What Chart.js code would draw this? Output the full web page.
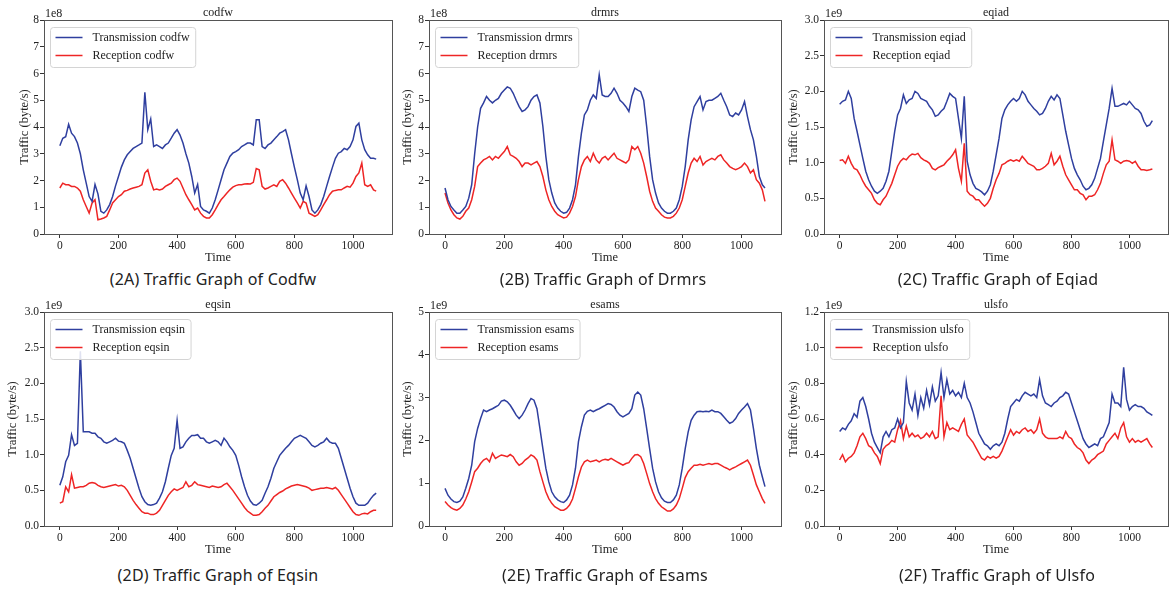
<!DOCTYPE html>
<html lang="en">
<head>
<meta charset="UTF-8">
<title>Traffic Graphs</title>
<script src="https://cdn.jsdelivr.net/npm/chart.js"></script>
<style>
  body { margin: 0; background: #fff; }
  #page { position: relative; width: 1174px; height: 592px; overflow: hidden; background: #fff; }
  #page canvas { position: absolute; }
  .caption {
    position: absolute;
    transform: translate(-50%, -50%);
    font-family: "Noto Sans", sans-serif;
    font-size: 16px;
    letter-spacing: 0.2px;
    color: #222;
    white-space: nowrap;
  }
</style>
</head>
<body>
<div id="page"></div>
<script>
// time axis (sampled every 10 steps)
const time = [0,10,20,30,40,50,60,70,80,90,
  100,110,120,130,140,150,160,170,180,190,
  200,210,220,230,240,250,260,270,280,290,
  300,310,320,330,340,350,360,370,380,390,
  400,410,420,430,440,450,460,470,480,490,
  500,510,520,530,540,550,560,570,580,590,
  600,610,620,630,640,650,660,670,680,690,
  700,710,720,730,740,750,760,770,780,790,
  800,810,820,830,840,850,860,870,880,890,
  900,910,920,930,940,950,960,970,980,990,
  1000,1010,1020,1030,1040,1050,1060,1070,1079];

// codfw (x1e8)
const codfwTx = [3.3,3.58,3.64,4.1,3.77,3.64,3.4,3.0,2.4,1.9,
  1.4,1.22,1.85,1.5,0.85,0.78,0.9,1.1,1.4,1.8,
  2.15,2.5,2.77,2.96,3.08,3.2,3.27,3.33,3.4,5.3,
  3.9,4.3,3.27,3.33,3.27,3.2,3.33,3.4,3.58,3.77,
  3.9,3.7,3.4,3.0,2.65,2.15,1.53,1.85,1.03,0.9,
  0.85,0.78,0.97,1.28,1.65,2.03,2.4,2.65,2.9,3.02,
  3.08,3.15,3.27,3.33,3.4,3.4,3.33,4.27,4.27,3.27,
  3.2,3.33,3.4,3.52,3.64,3.77,3.83,3.9,3.52,3.0,
  2.5,2.03,1.53,1.28,1.8,1.4,0.9,0.78,0.9,1.1,
  1.4,1.78,2.15,2.5,2.83,3.02,3.08,3.2,3.15,3.27,
  3.52,4.02,4.14,3.52,3.15,2.96,2.83,2.83,2.8];
const codfwRx = [1.72,1.9,1.84,1.84,1.78,1.78,1.72,1.6,1.28,1.03,
  0.78,1.16,1.28,0.53,0.56,0.6,0.66,0.9,1.16,1.28,
  1.4,1.47,1.6,1.63,1.68,1.72,1.75,1.78,1.84,2.28,
  2.4,1.97,1.65,1.68,1.65,1.68,1.78,1.84,1.9,2.03,
  2.09,1.97,1.72,1.47,1.28,1.1,0.9,0.97,0.78,0.66,
  0.6,0.6,0.72,0.9,1.1,1.28,1.4,1.53,1.65,1.75,
  1.81,1.84,1.84,1.87,1.88,1.87,1.93,2.45,2.4,1.78,
  1.68,1.72,1.78,1.84,1.78,1.97,2.03,1.9,1.72,1.53,
  1.34,1.16,0.97,1.22,1.16,0.78,0.72,0.66,0.72,0.9,
  1.1,1.28,1.47,1.6,1.63,1.65,1.65,1.72,1.78,1.75,
  1.9,2.15,2.28,2.65,1.84,1.78,1.84,1.65,1.6];

// drmrs (x1e8)
const drmrsTx = [1.72,1.28,1.03,0.9,0.78,0.78,0.9,1.03,1.34,1.84,
  3.0,4.0,4.7,4.9,5.14,5.0,4.9,5.0,5.07,5.26,
  5.38,5.5,5.45,5.26,5.0,4.76,4.58,4.64,4.76,5.0,
  5.14,5.2,4.9,4.02,2.9,2.03,1.53,1.16,0.97,0.85,
  0.78,0.81,0.97,1.28,1.84,2.9,3.77,4.45,4.64,5.0,
  5.2,5.07,5.95,5.2,5.14,5.14,5.26,5.45,5.26,5.0,
  4.9,4.76,4.58,5.14,5.45,5.38,5.32,5.0,4.02,2.9,
  2.03,1.53,1.16,0.97,0.85,0.78,0.78,0.85,0.97,1.28,
  1.78,2.52,3.52,4.27,4.76,4.95,5.14,4.64,4.95,5.0,
  5.0,5.07,5.14,5.26,5.0,4.76,4.45,4.39,4.52,4.45,
  4.64,4.95,4.39,3.9,3.52,2.9,2.15,1.84,1.72];
const drmrsRx = [1.53,1.16,0.9,0.72,0.6,0.56,0.66,0.85,0.97,1.28,
  1.78,2.52,2.65,2.77,2.83,2.9,2.77,2.9,2.83,2.96,
  3.08,3.27,2.96,2.9,2.83,2.71,2.52,2.65,2.65,2.58,
  2.65,2.71,2.52,2.15,1.65,1.28,1.03,0.85,0.72,0.66,
  0.6,0.63,0.78,1.03,1.4,2.03,2.52,2.77,2.9,2.71,
  3.02,2.77,2.65,2.83,2.9,2.77,2.9,3.02,2.83,2.77,
  2.71,2.65,2.77,3.27,3.15,3.27,3.02,2.65,2.15,1.6,
  1.22,0.97,0.85,0.72,0.63,0.6,0.6,0.66,0.78,0.97,
  1.28,1.78,2.28,2.65,2.83,2.71,2.9,2.58,2.71,2.77,
  2.83,2.77,2.9,2.96,2.77,2.65,2.52,2.45,2.4,2.45,
  2.52,2.65,2.52,2.28,2.4,2.03,1.9,1.65,1.22];

// eqiad (x1e9)
const eqiadTx = [1.82,1.86,1.88,2.0,1.9,1.62,1.44,1.25,1.06,0.88,
  0.76,0.67,0.6,0.57,0.6,0.64,0.74,0.88,1.16,1.44,
  1.67,1.76,1.95,1.83,1.88,1.9,2.0,1.97,1.9,1.88,
  1.86,1.79,1.74,1.65,1.67,1.72,1.76,1.86,1.97,1.93,
  1.9,1.62,1.34,1.93,1.02,0.83,0.71,0.64,0.62,0.59,
  0.55,0.6,0.69,0.88,1.11,1.34,1.62,1.74,1.81,1.86,
  1.9,1.86,1.9,2.0,1.95,1.86,1.81,1.76,1.72,1.67,
  1.69,1.76,1.86,1.93,1.88,1.95,1.9,1.67,1.44,1.25,
  1.06,0.92,0.83,0.76,0.67,0.62,0.64,0.69,0.78,0.92,
  1.06,1.3,1.53,1.76,2.04,1.79,1.79,1.81,1.83,1.81,
  1.86,1.81,1.76,1.74,1.69,1.58,1.51,1.53,1.59];
const eqiadRx = [1.03,1.04,0.99,1.09,0.99,0.92,0.9,0.83,0.74,0.67,
  0.62,0.57,0.48,0.43,0.41,0.48,0.53,0.62,0.71,0.83,
  0.95,1.02,1.06,1.04,1.09,1.12,1.11,1.13,1.07,1.04,
  1.02,0.99,0.92,0.9,0.93,0.95,0.97,1.02,1.06,1.11,
  1.18,0.92,0.74,1.27,0.6,0.55,0.53,0.48,0.48,0.43,
  0.39,0.43,0.5,0.64,0.76,0.85,0.97,0.99,1.02,1.04,
  1.02,1.04,1.02,1.09,1.04,0.99,0.97,0.95,0.9,0.9,
  0.92,0.95,0.99,1.13,0.97,1.02,1.09,0.95,0.83,0.76,
  0.69,0.62,0.62,0.57,0.55,0.48,0.53,0.53,0.55,0.62,
  0.71,0.85,0.97,1.02,1.32,1.04,1.02,0.99,1.02,1.03,
  1.02,0.99,1.02,0.95,0.9,0.9,0.89,0.9,0.91];

// eqsin (x1e9)
const eqsinTx = [0.57,0.69,0.9,0.99,1.28,1.13,1.16,2.45,1.32,1.32,
  1.32,1.3,1.3,1.25,1.23,1.18,1.16,1.18,1.2,1.23,
  1.19,1.18,1.16,1.06,0.95,0.81,0.67,0.53,0.41,0.34,
  0.3,0.29,0.3,0.32,0.39,0.48,0.62,0.81,0.99,1.09,
  1.48,1.09,1.11,1.18,1.23,1.27,1.27,1.28,1.23,1.23,
  1.18,1.16,1.18,1.2,1.18,1.13,1.23,1.18,1.11,1.06,
  0.99,0.85,0.69,0.55,0.43,0.35,0.3,0.29,0.32,0.36,
  0.46,0.55,0.67,0.81,0.9,0.99,1.04,1.09,1.13,1.18,
  1.23,1.25,1.27,1.25,1.23,1.18,1.13,1.11,1.13,1.16,
  1.18,1.23,1.18,1.16,1.16,1.09,0.95,0.81,0.67,0.53,
  0.41,0.32,0.29,0.29,0.29,0.32,0.38,0.43,0.46];
const eqsinRx = [0.32,0.34,0.55,0.48,0.72,0.53,0.54,0.55,0.55,0.57,
  0.6,0.61,0.6,0.57,0.55,0.54,0.55,0.56,0.57,0.58,
  0.56,0.57,0.55,0.5,0.43,0.36,0.3,0.25,0.2,0.18,
  0.18,0.16,0.16,0.18,0.22,0.29,0.36,0.43,0.48,0.52,
  0.5,0.52,0.54,0.62,0.55,0.57,0.62,0.58,0.57,0.56,
  0.55,0.54,0.56,0.55,0.54,0.55,0.58,0.6,0.55,0.5,
  0.44,0.38,0.32,0.26,0.21,0.18,0.15,0.15,0.16,0.2,
  0.25,0.29,0.35,0.41,0.44,0.47,0.49,0.52,0.54,0.56,
  0.57,0.58,0.57,0.56,0.55,0.53,0.5,0.51,0.52,0.53,
  0.53,0.54,0.53,0.52,0.54,0.5,0.44,0.38,0.32,0.26,
  0.2,0.16,0.15,0.17,0.18,0.17,0.2,0.22,0.22];

// esams (x1e9)
const esamsTx = [0.88,0.72,0.63,0.57,0.55,0.58,0.68,0.88,1.11,1.42,
  1.97,2.28,2.51,2.71,2.67,2.71,2.74,2.78,2.82,2.92,
  2.94,2.9,2.82,2.71,2.59,2.51,2.59,2.71,2.86,2.98,
  2.94,2.74,2.28,1.81,1.35,1.03,0.8,0.68,0.61,0.57,
  0.55,0.61,0.72,0.96,1.35,1.97,2.32,2.59,2.68,2.71,
  2.67,2.71,2.74,2.78,2.82,2.86,2.84,2.78,2.67,2.59,
  2.55,2.59,2.63,2.74,3.06,3.13,3.06,2.74,2.28,1.81,
  1.35,1.03,0.8,0.66,0.58,0.55,0.55,0.61,0.72,0.96,
  1.35,1.81,2.2,2.47,2.59,2.67,2.68,2.67,2.68,2.67,
  2.71,2.67,2.67,2.63,2.55,2.47,2.4,2.43,2.51,2.63,
  2.71,2.78,2.86,2.71,2.28,1.81,1.42,1.15,0.92];
const esamsRx = [0.57,0.49,0.43,0.39,0.37,0.41,0.49,0.63,0.8,1.03,
  1.27,1.35,1.46,1.54,1.58,1.5,1.7,1.58,1.62,1.66,
  1.64,1.62,1.67,1.62,1.5,1.42,1.46,1.54,1.59,1.66,
  1.62,1.54,1.27,1.03,0.8,0.64,0.53,0.45,0.41,0.37,
  0.37,0.41,0.49,0.63,0.88,1.15,1.38,1.5,1.54,1.5,
  1.52,1.54,1.5,1.54,1.56,1.54,1.58,1.54,1.5,1.46,
  1.42,1.46,1.48,1.58,1.66,1.67,1.62,1.46,1.23,0.99,
  0.8,0.64,0.53,0.45,0.4,0.35,0.35,0.4,0.49,0.64,
  0.88,1.13,1.27,1.35,1.42,1.42,1.44,1.42,1.44,1.46,
  1.44,1.46,1.46,1.42,1.38,1.35,1.31,1.35,1.38,1.42,
  1.46,1.5,1.54,1.42,1.19,0.96,0.8,0.64,0.53];

// ulsfo (x1e9)
const ulsfoTx = [0.53,0.55,0.54,0.57,0.59,0.63,0.61,0.7,0.72,0.67,
  0.6,0.52,0.47,0.44,0.41,0.5,0.53,0.5,0.54,0.55,
  0.6,0.55,0.58,0.81,0.69,0.65,0.74,0.62,0.72,0.66,
  0.76,0.68,0.78,0.7,0.73,0.86,0.72,0.82,0.74,0.76,
  0.73,0.75,0.72,0.8,0.72,0.69,0.64,0.58,0.52,0.49,
  0.46,0.45,0.43,0.45,0.46,0.45,0.47,0.52,0.6,0.67,
  0.69,0.71,0.7,0.73,0.75,0.74,0.73,0.74,0.72,0.82,
  0.73,0.69,0.68,0.67,0.69,0.7,0.72,0.73,0.75,0.74,
  0.69,0.64,0.59,0.54,0.49,0.46,0.44,0.45,0.46,0.45,
  0.49,0.5,0.54,0.58,0.74,0.69,0.69,0.67,0.89,0.71,
  0.65,0.67,0.68,0.67,0.67,0.66,0.64,0.63,0.62];
const ulsfoRx = [0.37,0.4,0.36,0.38,0.39,0.41,0.45,0.5,0.52,0.49,
  0.45,0.44,0.41,0.39,0.35,0.43,0.45,0.46,0.48,0.47,
  0.54,0.59,0.49,0.56,0.5,0.52,0.5,0.51,0.49,0.5,
  0.52,0.5,0.53,0.49,0.5,0.73,0.5,0.58,0.54,0.55,
  0.54,0.53,0.57,0.6,0.51,0.49,0.47,0.44,0.41,0.38,
  0.37,0.39,0.38,0.39,0.38,0.39,0.42,0.46,0.5,0.54,
  0.51,0.53,0.52,0.54,0.55,0.53,0.54,0.52,0.54,0.6,
  0.52,0.5,0.49,0.49,0.49,0.49,0.5,0.49,0.53,0.5,
  0.49,0.46,0.44,0.43,0.41,0.37,0.35,0.37,0.38,0.4,
  0.41,0.42,0.46,0.48,0.5,0.52,0.49,0.55,0.58,0.5,
  0.47,0.49,0.47,0.48,0.47,0.48,0.49,0.46,0.44];

// tick labels
const xTicks = [0, 200, 400, 600, 800, 1000];
const yTicks8 = [0, 1, 2, 3, 4, 5, 6, 7, 8];
const yTicks3 = [0, 0.5, 1.0, 1.5, 2.0, 2.5, 3.0];
const yTicks5 = [0, 1, 2, 3, 4, 5];
const yTicks12 = [0, 0.2, 0.4, 0.6, 0.8, 1.0, 1.2];

const SERIF = '"Liberation Serif", "Times New Roman", serif';
const BLUE = '#2f3f9f';
const RED = '#ee2525';
const INK = '#222';

// panel layout: box = [left, top, right, bottom] of the axes frame in page pixels
const panels = [
  { name: 'codfw', caption: '(2A) Traffic Graph of Codfw', tx: codfwTx, rx: codfwRx,
    yTicks: yTicks8, dec: 0, exp: '1e8', box: [44, 20, 392, 234], yTitle: 19, cap: [213, 279] },
  { name: 'drmrs', caption: '(2B) Traffic Graph of Drmrs', tx: drmrsTx, rx: drmrsRx,
    yTicks: yTicks8, dec: 0, exp: '1e8', box: [429, 20, 781, 234], yTitle: 21, cap: [603, 279] },
  { name: 'eqiad', caption: '(2C) Traffic Graph of Eqiad', tx: eqiadTx, rx: eqiadRx,
    yTicks: yTicks3, dec: 1, exp: '1e9', box: [824, 20, 1168, 234], yTitle: 30, cap: [998, 279] },
  { name: 'eqsin', caption: '(2D) Traffic Graph of Eqsin', tx: eqsinTx, rx: eqsinRx,
    yTicks: yTicks3, dec: 1, exp: '1e9', box: [44, 312, 392, 526], yTitle: 31, cap: [218, 575] },
  { name: 'esams', caption: '(2E) Traffic Graph of Esams', tx: esamsTx, rx: esamsRx,
    yTicks: yTicks5, dec: 0, exp: '1e9', box: [429, 312, 781, 526], yTitle: 21, cap: [605, 575] },
  { name: 'ulsfo', caption: '(2F) Traffic Graph of Ulsfo', tx: ulsfoTx, rx: ulsfoRx,
    yTicks: yTicks12, dec: 1, exp: '1e9', box: [824, 312, 1168, 526], yTitle: 30, cap: [997, 575] }
];

const Y_AXIS_W = 44, X_AXIS_H = 34, PAD_TOP = 20, PAD_RIGHT = 4;

// draws the full frame, title, exponent label and the boxed legend
function framePlugin(p) {
  return {
    id: 'frame',
    afterDraw(chart) {
      const a = chart.chartArea;
      const ctx = chart.ctx;
      ctx.save();
      ctx.strokeStyle = '#555';
      ctx.lineWidth = 1;
      ctx.strokeRect(Math.round(a.left) + 0.5, Math.round(a.top) + 0.5,
        Math.round(a.right - a.left), Math.round(a.bottom - a.top));

      ctx.fillStyle = INK;
      ctx.textBaseline = 'middle';
      ctx.font = '12px ' + SERIF;
      ctx.textAlign = 'center';
      ctx.fillText(p.name, (a.left + a.right) / 2, a.top - 7.5);
      ctx.textAlign = 'left';
      ctx.fillText(p.exp, a.left + 1, a.top - 6.5);

      // legend
      const l1 = 'Transmission ' + p.name, l2 = 'Reception ' + p.name;
      const tw = Math.max(ctx.measureText(l1).width, ctx.measureText(l2).width);
      const x0 = a.left + 6.5, y0 = a.top + 7.5, w = 42 + tw + 6, h = 40;
      ctx.beginPath();
      ctx.roundRect(x0, y0, w, h, 3);
      ctx.fillStyle = 'rgba(255,255,255,0.85)';
      ctx.fill();
      ctx.strokeStyle = '#d4d4d4';
      ctx.stroke();
      [[l1, BLUE, y0 + 10], [l2, RED, y0 + 28]].forEach(([txt, col, y]) => {
        ctx.beginPath();
        ctx.moveTo(x0 + 5, y);
        ctx.lineTo(x0 + 32, y);
        ctx.strokeStyle = col;
        ctx.lineWidth = 1.5;
        ctx.stroke();
        ctx.fillStyle = INK;
        ctx.fillText(txt, x0 + 42, y + 0.5);
      });
      ctx.restore();
    }
  };
}

const page = document.getElementById('page');

panels.forEach(p => {
  const [l, t, r, b] = p.box;
  const cl = l - Y_AXIS_W, ct = t - PAD_TOP;
  const cw = r - cl + PAD_RIGHT, ch = b + X_AXIS_H - ct;
  const canvas = document.createElement('canvas');
  canvas.style.left = cl + 'px';
  canvas.style.top = ct + 'px';
  canvas.style.width = cw + 'px';
  canvas.style.height = ch + 'px';
  canvas.width = cw;
  canvas.height = ch;
  page.appendChild(canvas);

  const cap = document.createElement('div');
  cap.className = 'caption';
  cap.textContent = p.caption;
  cap.style.left = p.cap[0] + 'px';
  cap.style.top = p.cap[1] + 'px';
  page.appendChild(cap);

  const pts = arr => arr.map((v, i) => ({ x: time[i], y: v }));
  const yMax = p.yTicks[p.yTicks.length - 1];

  new Chart(canvas, {
    type: 'line',
    data: {
      datasets: [
        { label: 'Transmission ' + p.name, data: pts(p.tx), borderColor: BLUE, borderWidth: 1.5 },
        { label: 'Reception ' + p.name, data: pts(p.rx), borderColor: RED, borderWidth: 1.5 }
      ]
    },
    options: {
      responsive: false,
      animation: false,
      events: [],
      elements: { point: { radius: 0 }, line: { tension: 0 } },
      layout: { padding: { top: PAD_TOP, right: PAD_RIGHT, left: 0, bottom: 0 } },
      plugins: { legend: { display: false }, tooltip: { enabled: false }, title: { display: false } },
      scales: {
        x: {
          type: 'linear', min: -54, max: 1133,
          afterBuildTicks: s => { s.ticks = xTicks.map(v => ({ value: v })); },
          afterFit: s => { s.height = X_AXIS_H; },
          grid: { drawOnChartArea: false, drawTicks: true, tickLength: 4, color: '#333' },
          border: { display: false },
          ticks: { font: { family: SERIF, size: 11.5 }, color: INK, padding: 1, maxRotation: 0, autoSkip: false,
            callback: v => String(v) },
          title: { display: true, text: 'Time', color: INK, font: { family: SERIF, size: 12.5 },
            padding: { top: 0, bottom: 2.5 } }
        },
        y: {
          min: 0, max: yMax,
          afterBuildTicks: s => { s.ticks = p.yTicks.map(v => ({ value: v })); },
          afterFit: s => { s.width = Y_AXIS_W; },
          grid: { drawOnChartArea: false, drawTicks: true, tickLength: 4, color: '#333' },
          border: { display: false },
          ticks: { font: { family: SERIF, size: 11.5 }, color: INK, padding: 1, autoSkip: false,
            callback: v => Number(v).toFixed(p.dec) },
          title: { display: true, text: 'Traffic (byte/s)', color: INK, font: { family: SERIF, size: 12.5 },
            padding: { top: Y_AXIS_W - p.yTitle - 7.5, bottom: 0 } }
        }
      }
    },
    plugins: [framePlugin(p)]
  });
});
</script>
</body>
</html>
